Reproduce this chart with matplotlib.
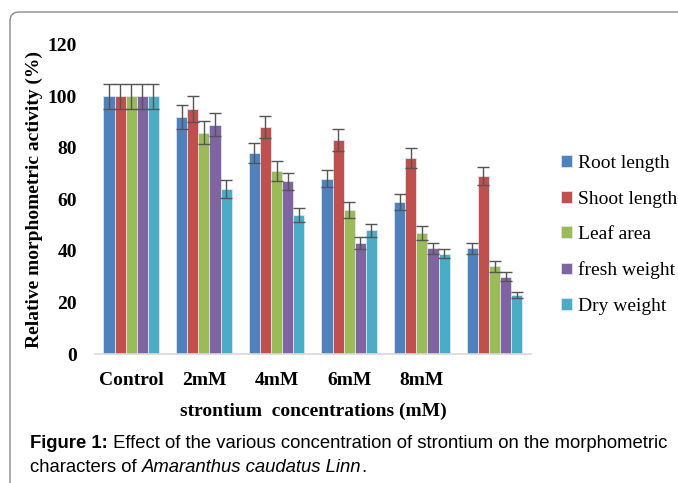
import matplotlib
matplotlib.use("Agg")
import matplotlib.pyplot as plt
import numpy as np
from matplotlib.patches import FancyBboxPatch
from matplotlib.transforms import IdentityTransform

categories = ["Control", "2mM", "4mM", "6mM", "8mM", ""]
series = ["Root length", "Shoot length", "Leaf area", "fresh weight", "Dry weight"]
colors = ["#4F81BD", "#C0504D", "#9BBB59", "#8064A2", "#4BACC6"]

root = [100, 92, 78, 68, 59, 41]
shoot = [100, 95, 88, 83, 76, 69]
leaf = [100, 86, 71, 56, 47, 34]
fresh = [100, 89, 67, 43, 41, 30]
dry = [100, 64, 54, 48, 39, 23]

root_err = [5, 4.5, 4, 3.3, 3, 2.2]
shoot_err = [5, 5, 4.3, 4.3, 3.9, 3.5]
leaf_err = [5, 4.5, 3.8, 3.1, 2.8, 2]
fresh_err = [5, 4.5, 3.4, 2.3, 2.2, 1.7]
dry_err = [5, 3.5, 2.8, 2.4, 1.9, 1.2]

values = [root, shoot, leaf, fresh, dry]
errors = [root_err, shoot_err, leaf_err, fresh_err, dry_err]

serif = "Liberation Serif"
sans = "Liberation Sans"
fig = plt.figure(figsize=(6.78, 4.83), dpi=100)
ax = fig.add_axes([0.140, 0.267, 0.643, 0.640])

x = np.arange(len(categories))
w = 0.153
for i, (vals, errs) in enumerate(zip(values, errors)):
    pos = x + (i - 2) * w
    ax.bar(pos, vals, w, color=colors[i], edgecolor="#dfe6ee", linewidth=0.6,
           label=series[i], zorder=2)
    ax.errorbar(pos, vals, yerr=errs, fmt="none", ecolor="#555555",
                elinewidth=1.0, capsize=4, capthick=1.0, zorder=3)

ax.set_xlim(-0.5, len(categories) - 0.5)
ax.set_ylim(0, 120)
ax.set_yticks(range(0, 121, 20))
ax.set_xticks(x)
ax.set_xticklabels(categories)
for s in ["top", "right", "left"]:
    ax.spines[s].set_visible(False)
ax.spines["bottom"].set_color("#d9d9d9")
ax.spines["bottom"].set_linewidth(1.2)
ax.tick_params(axis="both", length=0)
ax.tick_params(axis="y", pad=13)
ax.tick_params(axis="x", pad=13)
for lab in ax.get_xticklabels() + ax.get_yticklabels():
    lab.set_fontfamily(serif)
    lab.set_fontweight("bold")
    lab.set_fontsize(14)

ax.set_xlabel("strontium  concentrations (mM)", fontfamily=serif,
              fontweight="bold", fontsize=14, labelpad=10)
ax.set_ylabel("Relative morphometric activity (%)", fontfamily=serif,
              fontweight="bold", fontsize=14, labelpad=3)

leg = ax.legend(loc="center left", bbox_to_anchor=(1.03, 0.385), frameon=False,
                prop={"family": serif, "size": 14}, handlelength=0.55,
                handleheight=0.55, handletextpad=0.3, labelspacing=0.95)

# rounded frame around the figure
frame = FancyBboxPatch((10, -30), 720, 483 - 12 + 30,
                       boxstyle="round,pad=0,rounding_size=9",
                       transform=IdentityTransform(), fill=False,
                       edgecolor="#8a8a8a", linewidth=1.0)
fig.patches.append(frame)

# caption, pieces chained one after another
cap = dict(fontfamily=sans, fontsize=13.3, va="bottom")
t = fig.text(30 / 678, 1 - 452 / 483, "Figure 1:", fontweight="bold", **cap)
ax.annotate(" Effect of the various concentration of strontium on the morphometric",
            xy=(1, 0), xycoords=t, ha="left", annotation_clip=False, **cap)
t3 = fig.text(30 / 678, 1 - 476 / 483, "characters of ", **cap)
t4 = ax.annotate("Amaranthus caudatus Linn", xy=(1, 0), xycoords=t3, ha="left",
                 style="italic", annotation_clip=False, **cap)
ax.annotate(".", xy=(1, 0), xycoords=t4, ha="left", annotation_clip=False, **cap)

fig.savefig("out.png", dpi=100)
